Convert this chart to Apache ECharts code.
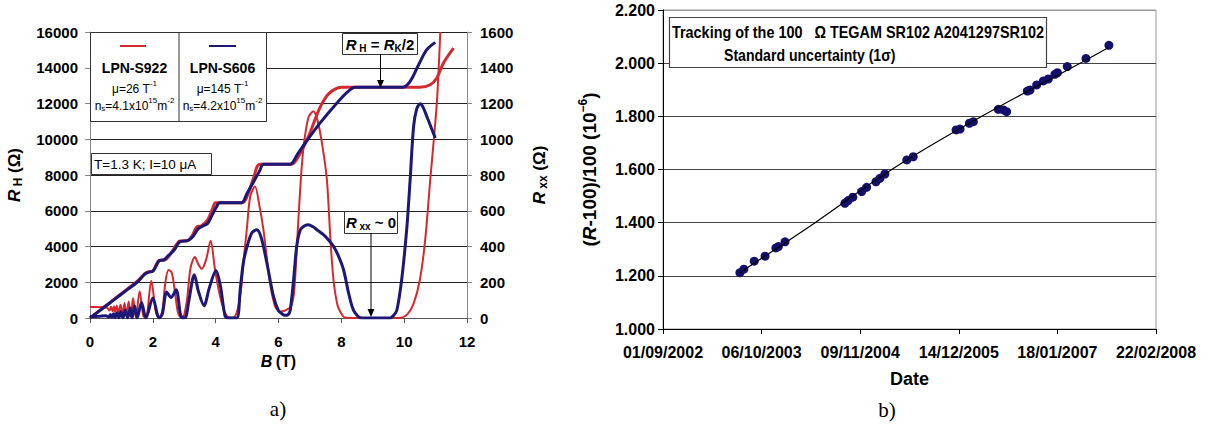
<!DOCTYPE html>
<html><head><meta charset="utf-8">
<script src="https://cdn.jsdelivr.net/npm/echarts@6/dist/echarts.min.js"></script>
<style>html,body{margin:0;padding:0;background:#fff;}#c{width:1215px;height:432px;}</style>
</head><body><div id="c"></div>
<script>
// ---------- Panel a) : quantum Hall data ----------
const hallB_S922 = [0,0.3,0.6,0.9,1.2,1.5,1.75,1.85,2.0,2.1,2.2,2.4,2.55,2.75,2.85,3.1,3.25,3.4,3.55,3.75,3.9,4.0,4.85,5.0,5.2,5.41,6.42,6.55,6.7,6.85,7.0,7.15,7.3,7.45,7.6,7.8,8.0,10.5,10.83,11.04,11.25,11.57];
const hallR_S922 = [0,410,820,1230,1640,2050,2500,2581,2620,2950,3227,3260,3550,4100,4302,4320,4600,5100,5163,5500,6100,6453,6453,6800,7800,8604,8604,8800,9250,9750,10350,11050,11700,12200,12550,12800,12906,12906,13050,13430,14270,15100];

const hallB_S606 = [0,0.3,0.6,0.9,1.2,1.5,1.75,1.9,2.0,2.1,2.2,2.35,2.5,2.7,2.85,3.1,3.25,3.45,3.6,3.75,3.9,4.05,4.12,4.6,4.83,5.0,5.2,5.4,5.52,6.37,6.6,6.85,7.32,7.86,8.2,8.44,9.95,10.19,10.46,10.72,10.99];
const hallR_S606 = [0,400,800,1200,1600,2000,2450,2580,2620,2900,3200,3250,3500,3850,4250,4330,4500,5000,5150,5300,5800,6300,6453,6453,6453,6980,7600,8230,8604,8604,9150,9790,10900,12030,12650,12906,12906,13240,14170,15010,15420];

const rxxB_S922 = [0,0.2,0.4,0.55,0.62,0.67,0.72,0.76,0.8,0.85,0.9,0.97,1.03,1.10,1.16,1.23,1.30,1.37,1.46,1.58,1.70,1.78,1.95,2.10,2.20,2.30,2.40,2.50,2.60,2.70,2.80,2.90,3.00,3.10,3.20,3.34,3.45,3.56,3.70,3.84,3.98,4.14,4.30,4.45,4.60,4.78,4.88,4.99,5.10,5.25,5.40,5.52,5.73,5.89,6.00,6.10,6.25,6.40,6.50,6.60,6.71,6.80,6.95,7.11,7.25,7.40,7.54,7.65,7.75,7.88,8.00,8.10,8.5,9.0,9.5,9.9,10.1,10.3,10.5,10.67,10.83,10.95,11.05,11.15];
const rxxR_S922 = [62,62,60,57,42,63,38,66,34,68,28,74,20,84,12,93,6,112,4,150,8,5,209,30,2,40,200,268,255,150,30,2,20,120,280,341,300,275,330,432,270,121,28,2,5,121,308,494,680,736,620,494,196,65,42,37,45,65,150,450,774,960,1120,1156,1100,960,774,450,214,70,25,3,0,0,0,2,20,80,214,438,774,1010,1230,1600];

const rxxB_S606 = [0,0.3,0.5,0.6,0.65,0.7,0.75,0.8,0.86,0.92,0.98,1.05,1.12,1.2,1.28,1.34,1.42,1.5,1.64,1.78,2.0,2.2,2.3,2.44,2.58,2.74,2.88,2.95,3.05,3.15,3.32,3.45,3.63,3.8,4.01,4.15,4.3,4.4,4.67,4.78,4.88,5.0,5.15,5.31,5.45,5.63,5.84,6.0,6.1,6.2,6.3,6.37,6.48,6.58,6.7,6.85,6.95,7.1,7.25,7.43,7.6,7.75,7.9,8.07,8.23,8.35,8.44,8.6,9.0,9.55,9.67,9.77,9.92,10.08,10.19,10.3,10.4,10.51,10.6,10.72,10.85,10.99];
const rxxR_S606 = [8,10,12,5,20,3,24,2,30,1,36,0,44,0,56,0,69,0,87,0,112,0,20,145,115,158,20,0,5,100,242,150,69,170,266,180,10,0,0,158,308,400,475,494,450,308,121,40,25,15,18,40,214,401,495,518,522,510,490,466,435,401,350,270,140,60,28,2,0,0,15,46,214,494,774,1072,1170,1199,1180,1128,1070,1007];

// ---------- Panel b) : resistor tracking ----------
const trackDates = ['2003-07-10','2003-07-26','2003-09-06','2003-10-20','2003-12-03','2003-12-13','2004-01-09',
  '2004-09-08','2004-09-21','2004-10-10','2004-11-15','2004-12-05','2005-01-12','2005-01-28','2005-02-17',
  '2005-05-17','2005-06-12','2005-12-03','2005-12-19','2006-01-26','2006-02-11','2006-05-23','2006-06-13','2006-06-26',
  '2006-09-18','2006-09-29','2006-10-26','2006-11-22','2006-12-12','2007-01-08','2007-01-18','2007-02-27','2007-05-14','2007-08-15'];
const trackValues = [1.212,1.225,1.255,1.274,1.305,1.310,1.328,
  1.473,1.483,1.496,1.517,1.533,1.554,1.567,1.583,
  1.636,1.648,1.749,1.752,1.774,1.780,1.8265,1.824,1.8175,
  1.895,1.899,1.918,1.933,1.9405,1.958,1.964,1.987,2.018,2.067];
const trendDates = ['2003-07-10','2004-05-10','2005-03-17','2006-03-17','2007-04-20','2007-08-12'];
const trendValues = [1.212,1.400,1.600,1.800,2.000,2.058];

const dateAxisStart = '2002-09-01';
const dateTickStep = 400; // days between date ticks

// ---------- helpers ----------
const DAY = 86400000;
const t0 = Date.parse(dateAxisStart + 'T00:00:00Z');
const toDays = s => Math.round((Date.parse(s + 'T00:00:00Z') - t0) / DAY);
const fmtDay = d => { const dt = new Date(t0 + d * DAY);
  const p = n => String(n).padStart(2, '0');
  return p(dt.getUTCDate()) + '/' + p(dt.getUTCMonth() + 1) + '/' + dt.getUTCFullYear(); };
const zip = (a, b) => a.map((v, i) => [v, b[i]]);

const RED = '#d42a2e', BLUE = '#1b1878', FONT = 'Liberation Sans, Arial, sans-serif';

const chart = echarts.init(document.getElementById('c'), null, {renderer: 'svg'});

const lbl = {fontFamily: FONT, fontWeight: 'bold', fontSize: 15, color: '#000'};
const sup = {fontFamily: FONT, fontSize: 8, verticalAlign: 'top', lineHeight: 16, color: '#000'};
const norm = {fontFamily: FONT, fontSize: 12, lineHeight: 16, verticalAlign: 'bottom', color: '#000'};
const sub = {fontFamily: FONT, fontSize: 8, verticalAlign: 'bottom', lineHeight: 14, color: '#000'};
const titleRich = {
  r: {fontFamily: FONT, fontSize: 17, fontWeight: 'bold', fontStyle: 'italic', lineHeight: 20, color: '#000'},
  s: {fontFamily: FONT, fontSize: 12, fontWeight: 'bold', verticalAlign: 'bottom', lineHeight: 16, color: '#000'},
  n: {fontFamily: FONT, fontSize: 17, fontWeight: 'bold', lineHeight: 20, color: '#000'}};

chart.setOption({
  animation: false,
  backgroundColor: '#fff',
  grid: [
    {left: 90, top: 32, width: 377, height: 286, containLabel: false, outerBoundsMode: 'none'},
    {left: 663, top: 10, width: 493, height: 319, containLabel: false, outerBoundsMode: 'none', show: true, borderColor: '#999', borderWidth: 1}
  ],
  xAxis: [
    {type: 'value', gridIndex: 0, min: 0, max: 12, interval: 2,
     axisLine: {show: true, onZero: false, lineStyle: {color: '#555', width: 1}},
     axisTick: {show: true, length: 5, lineStyle: {color: '#555'}},
     axisLabel: {...lbl, margin: 16, formatter: v => String(v)},
     splitLine: {show: false},
     name: '{b|B} {t|(T)}', nameLocation: 'middle', nameGap: 35,
     nameTextStyle: {color: '#000', rich: {b: {fontFamily: FONT, fontSize: 16, fontWeight: 'bold', fontStyle: 'italic', color: '#000'}, t: {fontFamily: FONT, fontSize: 16, fontWeight: 'bold', color: '#000'}}}},
    {type: 'value', gridIndex: 1, min: 0, max: 2000, interval: dateTickStep,
     axisLine: {show: true, onZero: false, lineStyle: {color: '#000', width: 1}},
     axisTick: {show: true, length: 5, lineStyle: {color: '#000'}},
     axisLabel: {...lbl, fontSize: 16, margin: 15, formatter: v => fmtDay(v)},
     splitLine: {show: false},
     name: 'Date', nameLocation: 'middle', nameGap: 41,
     nameTextStyle: {fontFamily: FONT, fontSize: 18, fontWeight: 'bold', color: '#000'}}
  ],
  yAxis: [
    {type: 'value', gridIndex: 0, min: 0, max: 16000, interval: 2000, position: 'left',
     axisLine: {show: true, lineStyle: {color: '#888', width: 1}},
     axisTick: {show: true, length: 5, lineStyle: {color: '#888'}},
     axisLabel: {...lbl, margin: 12, formatter: v => String(v)},
     splitLine: {show: true, lineStyle: {color: '#222', width: 1}},
     name: '{r|R}{s| H}{n| (Ω)}', nameLocation: 'middle', nameRotate: 90, nameGap: 66,
     nameTextStyle: {color: '#000', rich: titleRich}},
    {type: 'value', gridIndex: 0, min: 0, max: 1600, interval: 200, position: 'right',
     axisLine: {show: true, lineStyle: {color: '#888', width: 1}},
     axisTick: {show: true, length: 5, lineStyle: {color: '#888'}},
     axisLabel: {...lbl, margin: 13, formatter: v => String(v)},
     splitLine: {show: false},
     name: '{r|R}{s| xx}{n| (Ω)}', nameLocation: 'middle', nameRotate: 90, nameGap: 62,
     nameTextStyle: {color: '#000', rich: titleRich}},
    {type: 'value', gridIndex: 1, min: 1.0, max: 2.2, interval: 0.2,
     axisLine: {show: true, lineStyle: {color: '#000', width: 1}},
     axisTick: {show: true, length: 5, lineStyle: {color: '#000'}},
     axisLabel: {...lbl, fontSize: 16, margin: 8, formatter: v => v.toFixed(3)},
     splitLine: {show: true, lineStyle: {color: ['#444','#444','#444','#444','#444','#444','#999'], width: 1}},
     name: '{n|(}{r|R}{n|-100)/100 (10}{s|−6}{n|)}', nameLocation: 'middle', nameRotate: 90, nameGap: 62,
     nameTextStyle: {color: '#000', rich: {
       r: {fontFamily: FONT, fontSize: 19, fontWeight: 'bold', fontStyle: 'italic', lineHeight: 24, color: '#000'},
       n: {fontFamily: FONT, fontSize: 19, fontWeight: 'bold', lineHeight: 24, color: '#000'},
       s: {fontFamily: FONT, fontSize: 12, fontWeight: 'bold', verticalAlign: 'top', lineHeight: 24, color: '#000'}}}}
  ],
  series: [
    {type: 'line', name: 'Rxx S922', xAxisIndex: 0, yAxisIndex: 1, data: zip(rxxB_S922, rxxR_S922),
     showSymbol: false, symbol: 'none', smooth: 0.3, lineStyle: {color: RED, width: 2}},
    {type: 'line', name: 'RH S922', xAxisIndex: 0, yAxisIndex: 0, data: zip(hallB_S922, hallR_S922),
     showSymbol: false, symbol: 'none', smooth: 0.3, lineStyle: {color: RED, width: 3}},
    {type: 'line', name: 'RH S606', xAxisIndex: 0, yAxisIndex: 0, data: zip(hallB_S606, hallR_S606),
     showSymbol: false, symbol: 'none', smooth: 0.3, lineStyle: {color: BLUE, width: 3}},
    {type: 'line', name: 'Rxx S606', xAxisIndex: 0, yAxisIndex: 1, data: zip(rxxB_S606, rxxR_S606),
     showSymbol: false, symbol: 'none', smooth: 0.3, lineStyle: {color: BLUE, width: 3}},
    {type: 'scatter', name: 'tracking', xAxisIndex: 1, yAxisIndex: 2,
     data: trackDates.map((d, i) => [toDays(d), trackValues[i]]),
     symbol: 'circle', symbolSize: 9, itemStyle: {color: '#12106c', opacity: 1}},
    {type: 'line', name: 'trend', xAxisIndex: 1, yAxisIndex: 2,
     data: trendDates.map((d, i) => [toDays(d), trendValues[i]]),
     showSymbol: false, symbol: 'none', smooth: 0.4, lineStyle: {color: '#000', width: 1.2}}
  ],
  graphic: [
    // legend box
    {type: 'rect', shape: {x: 90.5, y: 32.5, width: 176, height: 89}, style: {fill: '#fff', stroke: '#333', lineWidth: 1}, z: 10},
    {type: 'line', shape: {x1: 179, y1: 32.5, x2: 179, y2: 121.5}, style: {stroke: '#333', lineWidth: 1}, z: 11},
    {type: 'line', shape: {x1: 120, y1: 46, x2: 146, y2: 46}, style: {stroke: RED, lineWidth: 2}, z: 11},
    {type: 'line', shape: {x1: 209, y1: 46, x2: 236, y2: 46}, style: {stroke: BLUE, lineWidth: 2}, z: 11},
    {type: 'text', x: 134.5, y: 68, z: 11, style: {text: 'LPN-S922', fontFamily: FONT, fontSize: 14, fontWeight: 'bold', fill: '#000', align: 'center', verticalAlign: 'middle'}},
    {type: 'text', x: 222.5, y: 68, z: 11, style: {text: 'LPN-S606', fontFamily: FONT, fontSize: 14, fontWeight: 'bold', fill: '#000', align: 'center', verticalAlign: 'middle'}},
    {type: 'text', x: 134.5, y: 87, z: 11, style: {text: '{n|μ=26 T}{p|-1}', rich: {n: norm, p: sup}, align: 'center', verticalAlign: 'middle'}},
    {type: 'text', x: 222.5, y: 87, z: 11, style: {text: '{n|μ=145 T}{p|-1}', rich: {n: norm, p: sup}, align: 'center', verticalAlign: 'middle'}},
    {type: 'text', x: 134.5, y: 104, z: 11, style: {text: '{n|n}{b|s}{n|=4.1x10}{p|15}{n|m}{p|-2}', rich: {n: norm, p: sup, b: sub}, align: 'center', verticalAlign: 'middle'}},
    {type: 'text', x: 222.5, y: 104, z: 11, style: {text: '{n|n}{b|s}{n|=4.2x10}{p|15}{n|m}{p|-2}', rich: {n: norm, p: sup, b: sub}, align: 'center', verticalAlign: 'middle'}},
    // conditions box
    {type: 'rect', shape: {x: 91.5, y: 153.5, width: 120, height: 21}, style: {fill: '#fff', stroke: '#333', lineWidth: 1}, z: 10},
    {type: 'text', x: 94, y: 164, z: 11, style: {text: 'T=1.3 K; I=10 μA', fontFamily: FONT, fontSize: 13.5, fill: '#000', align: 'left', verticalAlign: 'middle'}},
    // R_H = R_K/2 box + arrow
    {type: 'rect', shape: {x: 342.5, y: 33.5, width: 75, height: 21}, style: {fill: '#fff', stroke: '#333', lineWidth: 1}, z: 10},
    {type: 'text', x: 380, y: 44, z: 11, style: {text: '{r|R}{s| H}{n| = }{r|R}{s|K}{n|/2}', align: 'center', verticalAlign: 'middle',
      rich: {r: {fontFamily: FONT, fontSize: 15, fontWeight: 'bold', fontStyle: 'italic', lineHeight: 18, color: '#000'},
             n: {fontFamily: FONT, fontSize: 15, fontWeight: 'bold', lineHeight: 18, color: '#000'},
             s: {fontFamily: FONT, fontSize: 10, fontWeight: 'bold', verticalAlign: 'bottom', lineHeight: 14, color: '#000'}}}},
    {type: 'line', shape: {x1: 380.5, y1: 54, x2: 380.5, y2: 82}, style: {stroke: '#000', lineWidth: 1}, z: 11},
    {type: 'polygon', shape: {points: [[377, 80], [384, 80], [380.5, 88]]}, style: {fill: '#000'}, z: 11},
    // R_xx ~ 0 box + arrow
    {type: 'rect', shape: {x: 344.5, y: 211.5, width: 53, height: 22}, style: {fill: '#fff', stroke: '#333', lineWidth: 1}, z: 10},
    {type: 'text', x: 371, y: 222, z: 11, style: {text: '{r|R}{s| xx}{n| ~ 0}', align: 'center', verticalAlign: 'middle',
      rich: {r: {fontFamily: FONT, fontSize: 15, fontWeight: 'bold', fontStyle: 'italic', lineHeight: 18, color: '#000'},
             n: {fontFamily: FONT, fontSize: 15, fontWeight: 'bold', lineHeight: 18, color: '#000'},
             s: {fontFamily: FONT, fontSize: 10, fontWeight: 'bold', verticalAlign: 'bottom', lineHeight: 14, color: '#000'}}}},
    {type: 'line', shape: {x1: 371, y1: 233, x2: 371, y2: 311}, style: {stroke: '#000', lineWidth: 1}, z: 11},
    {type: 'polygon', shape: {points: [[367.5, 309], [374.5, 309], [371, 317]]}, style: {fill: '#000'}, z: 11},
    // panel b title box
    {type: 'rect', shape: {x: 669.5, y: 17.5, width: 377, height: 50}, style: {fill: '#fff', stroke: '#444', lineWidth: 1.2}, z: 10},
    {type: 'text', x: 672, y: 32.5, scaleX: 0.9, z: 11, style: {text: 'Tracking of the 100   Ω TEGAM SR102 A2041297SR102', fontFamily: FONT, fontSize: 16, fontWeight: 'bold', fill: '#000', align: 'left', verticalAlign: 'middle'}},
    {type: 'text', x: 724, y: 55, scaleX: 0.88, z: 11, style: {text: 'Standard uncertainty (1σ)', fontFamily: FONT, fontSize: 16, fontWeight: 'bold', fill: '#000', align: 'left', verticalAlign: 'middle'}},
    // panel captions
    {type: 'text', x: 278, y: 409, style: {text: 'a)', fontFamily: 'Liberation Serif, serif', fontSize: 21, fill: '#000', align: 'center', verticalAlign: 'middle'}},
    {type: 'text', x: 887, y: 410, style: {text: 'b)', fontFamily: 'Liberation Serif, serif', fontSize: 21, fill: '#000', align: 'center', verticalAlign: 'middle'}}
  ]
});
</script></body></html>
